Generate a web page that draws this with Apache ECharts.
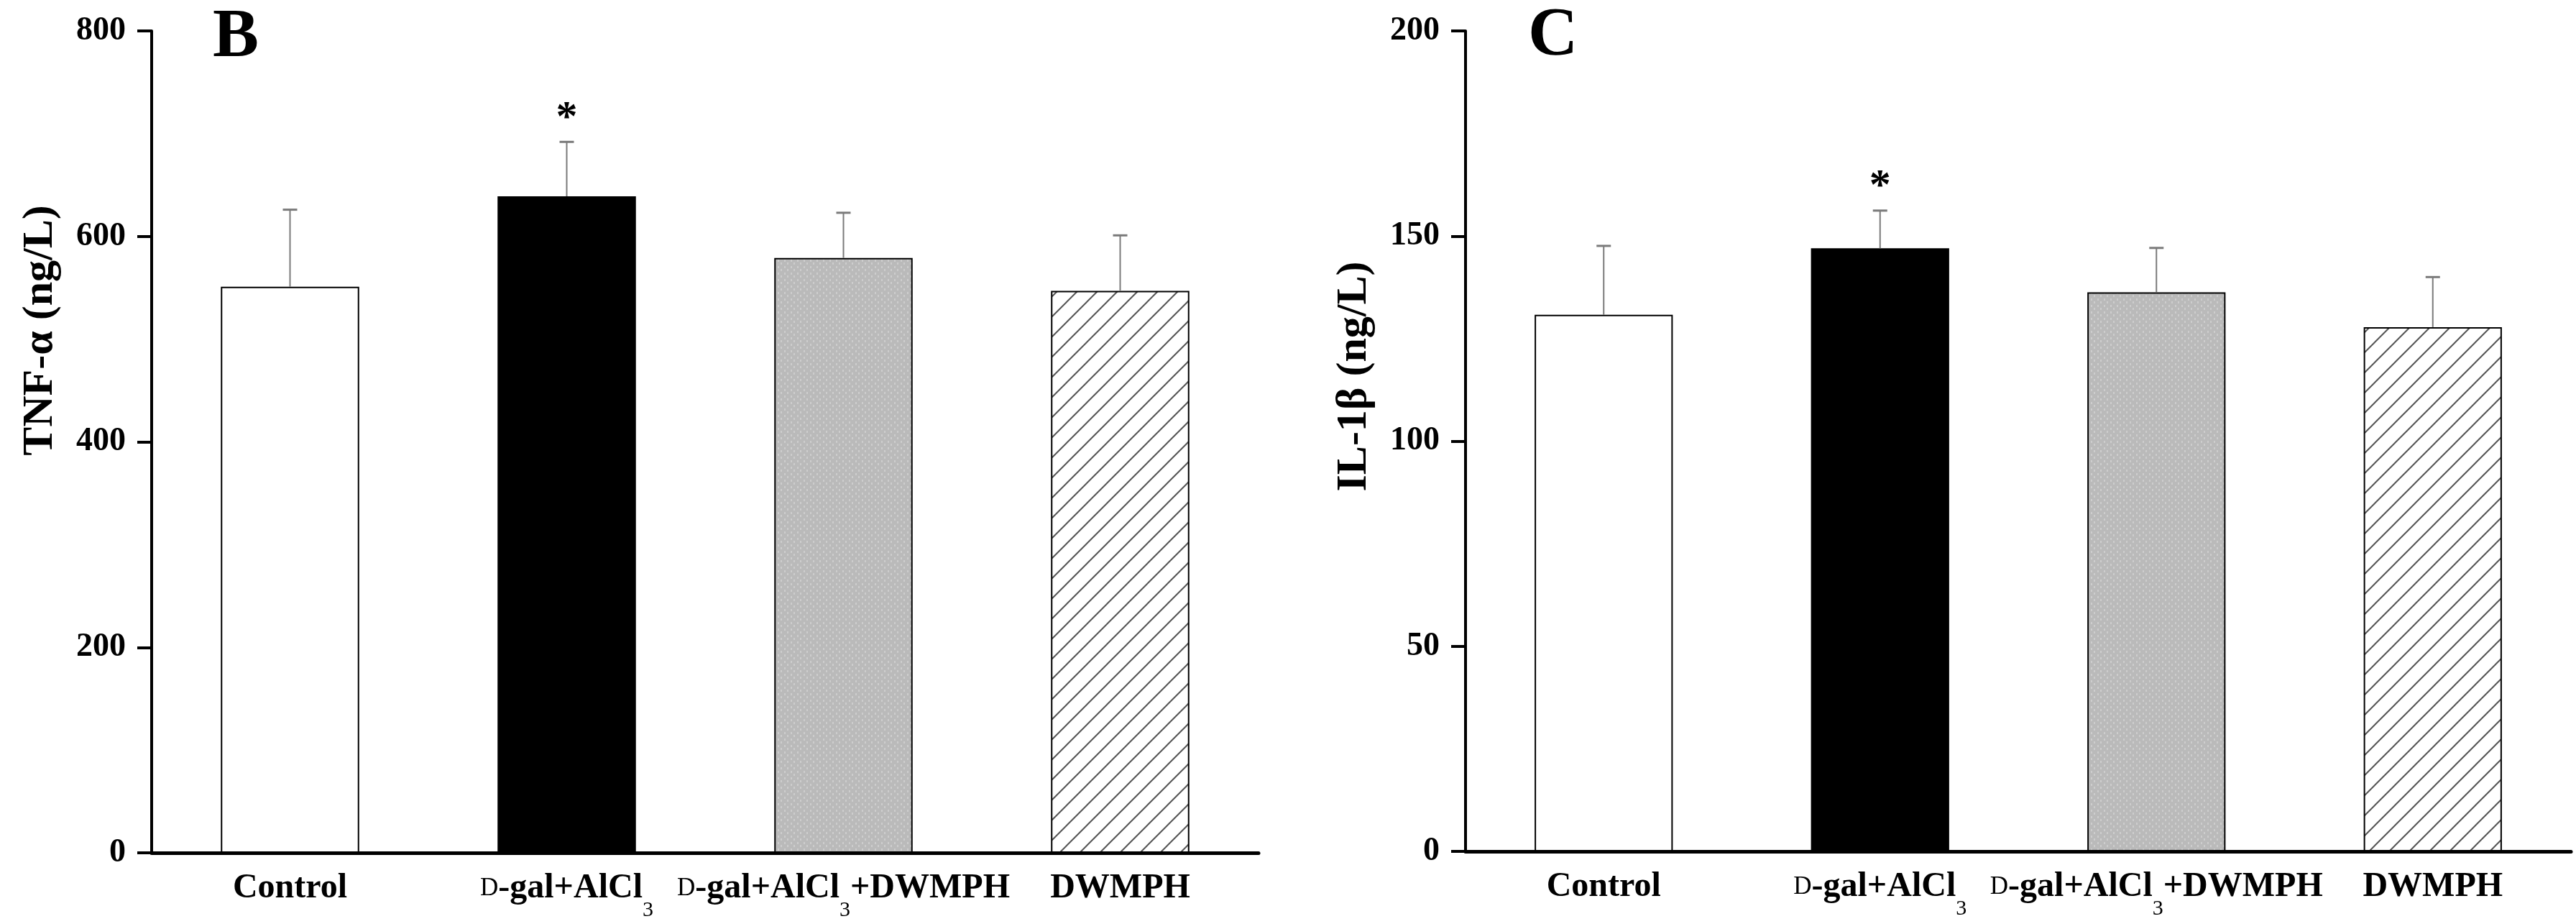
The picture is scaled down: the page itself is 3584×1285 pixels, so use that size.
<!DOCTYPE html>
<html>
<head>
<meta charset="utf-8">
<script src="https://cdn.jsdelivr.net/npm/echarts@6/dist/echarts.min.js"></script>
<style>
html,body{margin:0;padding:0;background:#fff}
#chart{width:3584px;height:1285px}
</style>
</head>
<body>
<div id="chart"></div>
<script>
// groups and values (mean + upper SD)
var groups = ['Control', 'D-gal+AlCl3', 'D-gal+AlCl3+DWMPH', 'DWMPH'];
var tnfMean = [551, 639, 579, 547];
var tnfSd = [75, 53, 44, 54];
var il1bMean = [130.8, 147.0, 136.3, 127.8];
var il1bSd = [16.8, 9.2, 10.8, 12.2];
var significant = [false, true, false, false];
var tnfTicks = [0, 200, 400, 600, 800];
var il1bTicks = [0, 50, 100, 150, 200];

var FONT = '"Liberation Serif", "Times New Roman", serif';

// diagonal hatch for the last bar
var hatch = document.createElement('canvas');
hatch.width = 28; hatch.height = 28;
(function () {
  var c = hatch.getContext('2d');
  c.fillStyle = '#fff';
  c.fillRect(0, 0, 28, 28);
  c.strokeStyle = '#555';
  c.lineWidth = 2;
  c.beginPath();
  c.moveTo(-2, 30); c.lineTo(30, -2);
  c.moveTo(-3, 3); c.lineTo(3, -3);
  c.moveTo(25, 31); c.lineTo(31, 25);
  c.stroke();
})();
// grey with faint light dots
var dots = document.createElement('canvas');
dots.width = 9; dots.height = 9;
(function () {
  var c = dots.getContext('2d');
  c.fillStyle = '#bababa';
  c.fillRect(0, 0, 9, 9);
  c.fillStyle = '#cdcdcd';
  c.fillRect(2, 1, 2, 3);
  c.fillRect(6, 5, 2, 3);
})();
var fills = ['#ffffff', '#000000', { image: dots, repeat: 'repeat' }, { image: hatch, repeat: 'repeat' }];

function labelFmt(v) {
  return v.replace(/^D-/, '{sc|D}-').replace('AlCl3', 'AlCl{sub|3}');
}

function xAxis(gi) {
  return {
    type: 'category', gridIndex: gi, data: groups,
    axisLine: { lineStyle: { color: '#000', width: 5 } },
    axisTick: { show: false },
    axisLabel: {
      interval: 0, margin: 5, color: '#000', fontFamily: FONT, fontSize: 48,
      fontWeight: 'bold', lineHeight: 90, formatter: labelFmt,
      rich: {
        sc: { fontFamily: FONT, fontSize: 35, fontWeight: 'normal', color: '#000' },
        sub: { fontFamily: FONT, fontSize: 30, fontWeight: 'normal', color: '#000', lineHeight: 46, verticalAlign: 'bottom' }
      }
    }
  };
}

function yAxis(gi, ticks, name, shift) {
  return {
    type: 'value', gridIndex: gi,
    min: ticks[0], max: ticks[ticks.length - 1], interval: ticks[1] - ticks[0],
    name: name, nameLocation: 'middle', nameGap: 125, nameRotate: 90,
    nameTextStyle: { fontFamily: FONT, fontSize: 60, fontWeight: 'bold', color: '#000', padding: [0, 0, 0, shift] },
    axisLine: { show: true, lineStyle: { color: '#000', width: 4 } },
    axisTick: { show: true, length: 20, lineStyle: { color: '#000', width: 4 } },
    splitLine: { show: false },
    axisLabel: { margin: 36, color: '#000', fontFamily: FONT, fontSize: 46, fontWeight: 'bold' }
  };
}

function barSeries(gi, means) {
  return {
    type: 'bar', xAxisIndex: gi, yAxisIndex: gi, barWidth: '50%',
    itemStyle: { borderColor: '#000', borderWidth: 2 },
    data: means.map(function (v, i) { return { value: v, itemStyle: { color: fills[i] } }; })
  };
}

function errorSeries(gi, means, sds) {
  return {
    type: 'custom', xAxisIndex: gi, yAxisIndex: gi, z: 3,
    encode: { x: 0, y: 1 },
    data: means.map(function (m, i) { return [i, m, m + sds[i], significant[i] ? 1 : 0]; }),
    renderItem: function (params, api) {
      var base = api.coord([api.value(0), api.value(1)]);
      var top = api.coord([api.value(0), api.value(2)]);
      var kids = [
        { type: 'line', shape: { x1: base[0], y1: base[1], x2: top[0], y2: top[1] }, style: { stroke: '#7a7a7a', lineWidth: 2 } },
        { type: 'line', shape: { x1: top[0] - 10, y1: top[1], x2: top[0] + 10, y2: top[1] }, style: { stroke: '#7a7a7a', lineWidth: 3 } }
      ];
      if (api.value(3)) {
        kids.push({ type: 'text', x: top[0], y: top[1] - 2, style: {
          text: '*', fontFamily: FONT, fontSize: 60, fontWeight: 'bold', fill: '#000',
          align: 'center', verticalAlign: 'bottom' } });
      }
      return { type: 'group', children: kids };
    }
  };
}

var chart = echarts.init(document.getElementById('chart'));
chart.setOption({
  animation: false,
  backgroundColor: '#fff',
  title: [
    { text: 'B', left: 296, top: 5, padding: 0, textStyle: { fontFamily: FONT, fontSize: 96, fontWeight: 'bold', color: '#000' } },
    { text: 'C', left: 2126, top: 3, padding: 0, textStyle: { fontFamily: FONT, fontSize: 96, fontWeight: 'bold', color: '#000' } }
  ],
  grid: [
    { left: 211, top: 43, width: 1540, height: 1143 },
    { left: 2039, top: 43, width: 1538, height: 1141 }
  ],
  xAxis: [xAxis(0), xAxis(1)],
  yAxis: [yAxis(0, tnfTicks, 'TNF-α (ng/L)', 310), yAxis(1, il1bTicks, 'IL-1β (ng/L)', 180)],
  series: [
    barSeries(0, tnfMean), errorSeries(0, tnfMean, tnfSd),
    barSeries(1, il1bMean), errorSeries(1, il1bMean, il1bSd)
  ]
});
</script>
</body>
</html>
